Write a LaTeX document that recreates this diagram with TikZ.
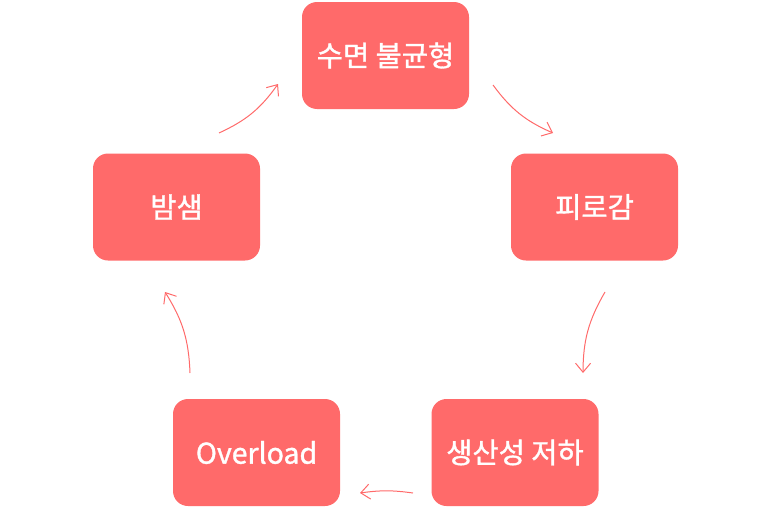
\documentclass[tikz,border=0pt]{standalone}
\usepackage{fontspec}
\setmainfont{Noto Sans CJK KR}
\newfontfamily\boxfont{Noto Sans CJK KR}[FakeBold=1.2]
\usetikzlibrary{arrows.meta}
\definecolor{coral}{HTML}{FF6A6A}
\tikzset{
  box/.style={fill=coral, rounded corners=15pt, minimum width=167pt, minimum height=107pt, inner sep=0pt, text=white, font=\boxfont\fontsize{28.5}{33}\selectfont},
  cyc/.style={draw=coral, line width=1pt, -{Straight Barb[length=9pt,width=15pt]}}
}
\begin{document}
\begin{tikzpicture}[x=1pt,y=-1pt]
\useasboundingbox (0,0) rectangle (770,514);
\node[box] (sleep) at (385.5,55.5) {수면 불균형};
\node[box] (tired) at (594.5,207) {피로감};
\node[box] (prod) at (515,452.5) {생산성 저하};
\node[box] (over) at (256.5,452.5) {Overload};
\node[box] (night) at (176.5,207) {밤샘};
\coordinate (a1s) at (219,133);
\coordinate (a1e) at (278,84);
\coordinate (a2s) at (493,85);
\coordinate (a2e) at (553,133);
\coordinate (a3s) at (605,292);
\coordinate (a3e) at (583,373);
\coordinate (a4s) at (413,493);
\coordinate (a4e) at (360,493);
\coordinate (a5s) at (190,373);
\coordinate (a5e) at (165,292);
\draw[cyc] (a1s) to[bend right=15] (a1e);
\draw[cyc] (a2s) to[bend right=15] (a2e);
\draw[cyc] (a3s) to[bend right=15] (a3e);
\draw[cyc] (a4s) to[bend right=8] (a4e);
\draw[cyc] (a5s) to[bend right=15] (a5e);
\end{tikzpicture}
\end{document}
